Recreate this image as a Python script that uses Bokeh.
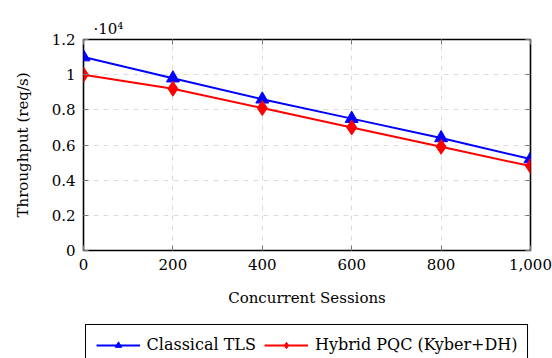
from bokeh.plotting import figure
from bokeh.layouts import column
from bokeh.models import (FixedTicker, NumeralTickFormatter, Legend, LegendItem,
                          LinearAxis, Title, Range1d)
from bokeh.embed import file_html
from bokeh.resources import INLINE

sessions = [0, 200, 400, 600, 800, 1000]
classical_tls = [11000, 9800, 8600, 7500, 6400, 5200]
hybrid_pqc = [10000, 9200, 8100, 7000, 5900, 4800]
y_ticks = [0, 2000, 4000, 6000, 8000, 10000, 12000]
y_tick_labels = ["0", "0.2", "0.4", "0.6", "0.8", "1", "1.2"]
x_ticks = [0, 200, 400, 600, 800, 1000]
series_names = ["Classical TLS", "Hybrid PQC (Kyber+DH)"]
series_colors = ["blue", "red"]
series_markers = ["triangle", "diamond"]
marker_sizes = [13, 15]
scale_label = "·10⁴"

FONT = "DejaVu Serif"
FS = "15px"
TICK_COLOR = "#777777"

p = figure(width=552, height=320, output_backend="svg",
           toolbar_location=None, x_range=Range1d(0, 1000), y_range=Range1d(0, 12000),
           min_border_left=83, min_border_right=22, min_border_top=39, min_border_bottom=70)
p.background_fill_color = "white"
p.border_fill_color = "white"
p.outline_line_color = "black"
p.outline_line_width = 1.6

for ax in (p.xaxis[0], p.yaxis[0]):
    ax.axis_line_color = None
    ax.major_tick_in = 5
    ax.major_tick_out = 0
    ax.minor_tick_line_color = None
    ax.major_tick_line_color = TICK_COLOR
    ax.major_label_text_font = FONT
    ax.major_label_text_font_size = FS
    ax.major_label_text_color = "black"
    ax.axis_label_text_font = FONT
    ax.axis_label_text_font_size = FS
    ax.axis_label_text_font_style = "normal"
    ax.axis_label_text_color = "black"

p.xaxis.ticker = FixedTicker(ticks=x_ticks)
p.xaxis.formatter = NumeralTickFormatter(format="0,0")
p.yaxis.ticker = FixedTicker(ticks=y_ticks)
p.yaxis.major_label_overrides = {t: l for t, l in zip(y_ticks, y_tick_labels)}
p.xaxis.axis_label = "Concurrent Sessions"
p.yaxis.axis_label = "Throughput (req/s)"
p.xaxis.major_label_standoff = 8
p.xaxis.axis_label_standoff = 16
p.yaxis.major_label_standoff = 8
p.yaxis.axis_label_standoff = 17

top = LinearAxis(ticker=FixedTicker(ticks=x_ticks),
                 major_label_overrides={t: "" for t in x_ticks},
                 major_label_text_font_size="1px", major_label_standoff=0,
                 axis_line_color=None, major_tick_in=5, major_tick_out=0,
                 major_tick_line_color=TICK_COLOR, minor_tick_line_color=None)
right = LinearAxis(ticker=FixedTicker(ticks=y_ticks),
                   major_label_overrides={t: "" for t in y_ticks},
                   major_label_text_font_size="1px", major_label_standoff=0,
                   axis_line_color=None, major_tick_in=5, major_tick_out=0,
                   major_tick_line_color=TICK_COLOR, minor_tick_line_color=None)
p.add_layout(top, "above")
p.add_layout(right, "right")

p.add_layout(Title(text=scale_label, align="left", offset=10, standoff=4,
                   text_font=FONT, text_font_size=FS, text_font_style="normal",
                   text_color="black"), "above")

p.xgrid.ticker = FixedTicker(ticks=x_ticks)
p.ygrid.ticker = FixedTicker(ticks=y_ticks)
for g in (p.xgrid[0], p.ygrid[0]):
    g.grid_line_color = "#dcdcdc"
    g.grid_line_dash = "5 5"
    g.grid_line_width = 1

for ys, c, mk, ms in zip([classical_tls, hybrid_pqc], series_colors, series_markers, marker_sizes):
    p.line(sessions, ys, line_color=c, line_width=2)
    p.scatter(sessions, ys, marker=mk, size=ms, fill_color=c, line_color=c)

# legend strip below the chart (own canvas so the box is not clipped by the plot frame);
# its proxy glyphs use the same series but lie outside this strip's visible range
pl = figure(width=552, height=50, output_backend="svg", toolbar_location=None,
            x_axis_type=None, y_axis_type=None, x_range=Range1d(0, 1), y_range=Range1d(0, 1),
            min_border_left=62, min_border_right=0, min_border_top=0, min_border_bottom=0)
pl.outline_line_color = None
pl.background_fill_color = "white"
pl.border_fill_color = "white"
items = []
for name, ys, c, mk, ms in zip(series_names, [classical_tls, hybrid_pqc],
                               series_colors, series_markers, marker_sizes):
    lr = pl.line(sessions, ys, line_color=c, line_width=2)
    sr = pl.scatter(sessions, ys, marker=mk, size=ms, fill_color=c, line_color=c)
    items.append(LegendItem(label=name, renderers=[lr, sr]))

legend = Legend(items=items, orientation="horizontal", location="top",
                label_text_font=FONT, label_text_font_size="16px", label_text_color="black",
                border_line_color="black", border_line_width=1.5, border_line_alpha=1.0,
                background_fill_alpha=1.0,
                glyph_width=44, glyph_height=16, spacing=8, padding=10,
                label_standoff=7, margin=4)
pl.add_layout(legend)

layout = column(p, pl, spacing=0)
open("out.html", "w").write(file_html(layout, INLINE))
